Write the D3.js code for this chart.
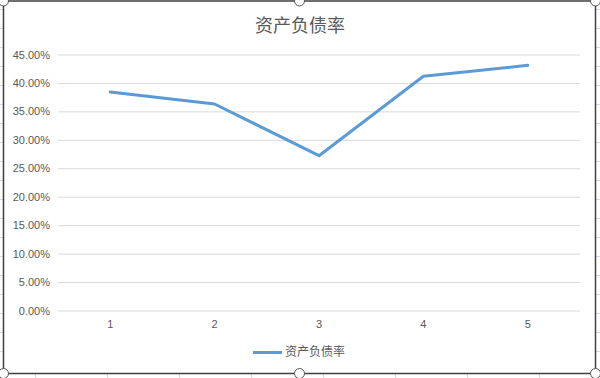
<!DOCTYPE html>
<html>
<head>
<meta charset="utf-8">
<script src="https://cdn.jsdelivr.net/npm/d3@7"></script>
<style>
  html, body { margin: 0; padding: 0; background: #fff; }
  svg { display: block; }
</style>
</head>
<body>
<svg id="chart" width="600" height="378"></svg>
<script>
const categories = ["1", "2", "3", "4", "5"];
const values = [0.3841, 0.3630, 0.2721, 0.4117, 0.4310];
const yTicks = [0, 0.05, 0.10, 0.15, 0.20, 0.25, 0.30, 0.35, 0.40, 0.45];
const seriesName = "资产负债率";
const chartTitle = "资产负债率";

(function () {
const svg = d3.select("#chart");
const W = 600, H = 378;

// spreadsheet background grid
const colXs = d3.range(35, W, 72);
const rowYs = d3.range(9, H, 19);
svg.append("g").selectAll("line").data(colXs).join("line")
  .attr("x1", d => d + 0.5).attr("x2", d => d + 0.5).attr("y1", 0).attr("y2", H)
  .attr("stroke", "#d4dbe6").attr("stroke-width", 1);
svg.append("g").selectAll("line").data(rowYs).join("line")
  .attr("y1", d => d + 0.5).attr("y2", d => d + 0.5).attr("x1", 0).attr("x2", W)
  .attr("stroke", "#d4dbe6").attr("stroke-width", 1);

// chart area
const cx0 = 3.5, cy0 = 1, cx1 = 595.5, cy1 = 373.5;
svg.append("rect").attr("x", cx0).attr("y", cy0)
  .attr("width", cx1 - cx0).attr("height", cy1 - cy0)
  .attr("fill", "#fff").attr("stroke", "#404040").attr("stroke-width", 1.5);

// title
svg.append("text").attr("x", 300).attr("y", 27)
  .attr("text-anchor", "middle").attr("dominant-baseline", "middle")
  .attr("font-family", "'Noto Sans CJK SC', sans-serif").attr("font-size", 18)
  .attr("fill", "#595959").text(chartTitle);

const pLeft = 58, pRight = 580, pTop = 54.5, pBottom = 310.5;
const x = d3.scaleBand().domain(categories).range([pLeft, pRight]);
const y = d3.scaleLinear().domain([0, 0.45]).range([pBottom, pTop]);

const yAxis = svg.append("g").attr("transform", `translate(${pLeft},0)`)
  .call(d3.axisLeft(y).tickValues(yTicks).tickFormat(d3.format(".2%"))
    .tickSize(-(pRight - pLeft)).tickPadding(8));
yAxis.select(".domain").remove();
yAxis.selectAll(".tick line").attr("stroke", "#d9d9d9").attr("stroke-width", 1);
yAxis.selectAll(".tick text").attr("fill", "#595959")
  .attr("font-family", "'Liberation Sans', Arial, sans-serif").attr("font-size", 11);

const xAxis = svg.append("g").attr("transform", `translate(0,${pBottom})`)
  .call(d3.axisBottom(x).tickSize(0).tickPadding(10));
xAxis.select(".domain").remove();
xAxis.selectAll(".tick text").attr("fill", "#595959")
  .attr("font-family", "'Liberation Sans', Arial, sans-serif").attr("font-size", 11);

const line = d3.line()
  .x((d, i) => x(categories[i]) + x.bandwidth() / 2)
  .y(d => y(d));
svg.append("path").datum(values).attr("d", line)
  .attr("fill", "none").attr("stroke", "#5b9bd5").attr("stroke-width", 3)
  .attr("stroke-linejoin", "round").attr("stroke-linecap", "round");

// legend
const lg = svg.append("g");
lg.append("line").attr("x1", 253).attr("x2", 282).attr("y1", 352.5).attr("y2", 352.5)
  .attr("stroke", "#5b9bd5").attr("stroke-width", 3);
lg.append("text").attr("x", 285).attr("y", 353).attr("dominant-baseline", "middle")
  .attr("font-family", "'Noto Sans CJK SC', sans-serif").attr("font-size", 12)
  .attr("fill", "#595959").text(seriesName);

// selection handles
const handles = [
  [cx0, cy0], [(cx0 + cx1) / 2, cy0], [cx1, cy0],
  [cx0, cy1], [(cx0 + cx1) / 2, cy1], [cx1, cy1]
];
svg.append("g").selectAll("circle").data(handles).join("circle")
  .attr("cx", d => d[0]).attr("cy", d => d[1]).attr("r", 5)
  .attr("fill", "#fff").attr("stroke", "#555").attr("stroke-width", 1);
})();
</script>
</body>
</html>
